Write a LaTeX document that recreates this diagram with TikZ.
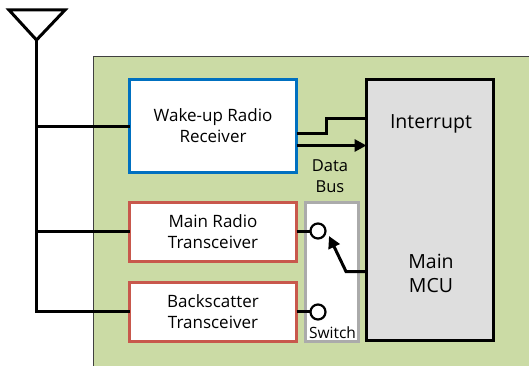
\documentclass[tikz,border=0pt]{standalone}
\usepackage{fontspec}
\setmainfont{Open Sans}
\usetikzlibrary{arrows.meta,calc}
\definecolor{bgreen}{HTML}{CBDBA5}
\definecolor{bblue}{HTML}{0070C0}
\definecolor{bred}{HTML}{C8584C}
\definecolor{mgray}{HTML}{DEDEDE}
\definecolor{sgray}{HTML}{ABABAB}
\tikzset{
  wire/.style={line width=3pt,black},
  arrowwire/.style={wire,-{Triangle[length=12pt,width=12pt]}},
  block/.style={draw,fill=white,anchor=north west,inner sep=0pt,outer sep=0pt,align=center,font=\fontsize{17}{21}\selectfont},
  wakebox/.style={block,draw=bblue,line width=3pt,minimum width=167pt,minimum height=93pt},
  trxbox/.style={block,draw=bred,line width=3pt,minimum width=167pt,minimum height=59pt},
  contact/.style={circle,draw=black,fill=white,line width=2.2pt,minimum size=15pt,inner sep=0pt,outer sep=0pt},
  label/.style={inner sep=0pt,align=center,font=\fontsize{16.5}{20.5}\selectfont},
  biglabel/.style={inner sep=0pt,align=center,font=\fontsize{19.5}{24}\selectfont}
}
\begin{document}
\begin{tikzpicture}[x=1pt,y=-1pt]
\useasboundingbox (0,0) rectangle (529,366);
\fill[white] (0,0) rectangle (529,366);
% green board
\path[fill=bgreen] (93,56) rectangle (529,366);
\draw[line width=0.8pt,black!75] (93,366) -- (93,56) -- (529,56);
% antenna
\coordinate (antTip) at (36.5,40);
\coordinate (antL) at (9,10);
\coordinate (antR) at (65,10);
\draw[wire,line join=miter] (antL) -- (antR) -- (antTip) -- cycle;
% blocks
\node[wakebox] (wake) at (129.5,79.5) {Wake-up Radio\\Receiver};
\node[trxbox] (mainr) at (129.5,202.5) {Main Radio\\Transceiver};
\node[trxbox] (back) at (129.5,282.5) {Backscatter\\Transceiver};
\node[draw=sgray,fill=white,line width=3pt,anchor=north west,outer sep=0pt,minimum width=53pt,minimum height=139pt,inner sep=0pt] (switch) at (305.5,202.5) {};
\node[draw=black,fill=mgray,line width=3pt,anchor=north west,outer sep=0pt,minimum width=127pt,minimum height=261pt,inner sep=0pt] (mcu) at (366.5,79.5) {};
% bus junctions
\coordinate (j1) at (36.5,126.5);
\coordinate (j2) at (36.5,231.5);
\coordinate (j3) at (36.5,311.5);
\draw[wire] (antTip) -- (36.5,313);
\draw[wire] (j1) -- (wake.west |- j1);
\draw[wire] (j2) -- (mainr.west |- j2);
\draw[wire] (j3) -- (back.west |- j3);
% contacts
\node[contact] (c1) at (318,231) {};
\node[contact] (c2) at (318,312) {};
\coordinate (w1) at (318,231.5);
\coordinate (w2) at (318,311.5);
\draw[wire] (mainr.east |- w1) -- (c1.west |- w1);
\draw[wire] (back.east |- w2) -- (c2.west |- w2);
% interrupt
\coordinate (i1) at (326.5,133.5);
\coordinate (i2) at (326.5,118.5);
\draw[wire,line join=miter] (wake.east |- i1) -- (i1) -- (i2) -- (mcu.west |- i2);
% data bus
\coordinate (d1) at (297,145.5);
\draw[arrowwire] (wake.east |- d1) -- (mcu.west |- d1);
% switch arm
\coordinate (s1) at (346,271.5);
\coordinate (s2) at (329,236);
\draw[arrowwire,line join=miter] (mcu.west |- s1) -- (s1) -- (s2);
% texts
\node[biglabel] (tint) at (431,124) {Interrupt};
\node[biglabel] (tmcu) at (431,273) {Main\\MCU};
\node[label] (tbus) at (330,176) {Data\\Bus};
\node[label,font=\fontsize{15.5}{18}\selectfont] (tsw) at (332.5,333) {Switch};
\end{tikzpicture}
\end{document}
